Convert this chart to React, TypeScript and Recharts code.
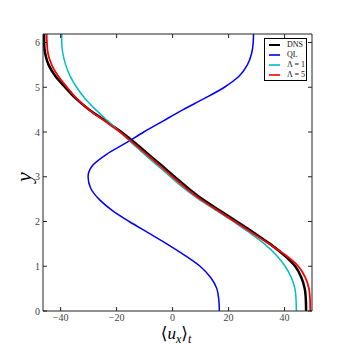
import React from 'react';
import { LineChart, Line, XAxis, YAxis, Legend } from 'recharts';

// profile heights and time-averaged streamwise velocity per run
const yLevels = [0, 0.25, 0.5, 0.75, 1, 1.25, 1.5, 1.75, 2, 2.25, 2.5, 2.75, 3, 3.25, 3.5, 3.75, 4, 4.25, 4.5, 4.75, 5, 5.25, 5.5, 5.75, 6, 6.19];
const dns = [47.7, 47.6, 47.2, 46.0, 43.8, 39.8, 34.8, 29.0, 22.9, 16.7, 10.6, 5.4, 0.7, -3.9, -8.6, -13.3, -18.3, -24.0, -29.8, -34.6, -38.4, -41.9, -44.3, -45.5, -45.9, -45.9];
const ql = [16.7, 16.5, 15.8, 13.6, 9.8, 4.2, -2.1, -8.8, -15.5, -21.6, -26.3, -29.3, -30.2, -28.6, -23.6, -16.8, -10.3, -3.3, 3.8, 11.4, 18.5, 23.8, 26.7, 28.2, 28.8, 28.9];
const lam1 = [44.2, 44.1, 43.7, 42.4, 40.2, 37.0, 32.8, 27.5, 21.7, 15.5, 9.3, 3.9, -0.8, -5.4, -10.0, -14.5, -18.8, -23.2, -27.5, -31.3, -34.3, -36.6, -38.2, -39.2, -39.6, -39.6];
const lam5 = [49.2, 49.1, 48.7, 47.4, 44.9, 40.3, 34.5, 28.3, 22.2, 16.0, 9.9, 4.7, 0.0, -4.6, -9.3, -14.0, -18.8, -24.3, -29.9, -34.3, -37.7, -40.9, -43.2, -44.5, -44.9, -45.0];

const seriesNames = ['DNS', 'QL', 'Λ = 1', 'Λ = 5'];
const seriesKeys = ['dns', 'ql', 'lam1', 'lam5'];
const seriesColors = ['#000000', '#0000ff', '#00bfbf', '#ff0000'];
const seriesWidths = [2.5, 1.5, 1.5, 1.8];

const xTicks = [-40, -20, 0, 20, 40];
const yTicks = [0, 1, 2, 3, 4, 5, 6];
const xDomain = [-46.3, 49.8];
const yDomain = [0, 6.19];

const data = yLevels.map((y, i) => ({ y, dns: dns[i], ql: ql[i], lam1: lam1[i], lam5: lam5[i] }));

const FONT = "'Liberation Serif', 'DejaVu Serif', serif";
const FRAME = '#222';
const fmt = (v: number) => String(v).replace('-', '\u2212');

const BottomTick = ({ x, y, payload }: any) => (
  <g>
    <line x1={x} y1={y} x2={x} y2={y - 4} stroke={FRAME} />
    <text x={x} y={y + 10} textAnchor="middle" fontSize={10} fill="#444" fontFamily={FONT}>{fmt(payload.value)}</text>
  </g>
);
const TopTick = ({ x, y }: any) => <line x1={x} y1={y} x2={x} y2={y + 4} stroke={FRAME} />;
const LeftTick = ({ x, y, payload }: any) => (
  <g>
    <line x1={x} y1={y} x2={x + 4} y2={y} stroke={FRAME} />
    <text x={x - 3} y={y + 3.5} textAnchor="end" fontSize={10} fill="#444" fontFamily={FONT}>{fmt(payload.value)}</text>
  </g>
);
const RightTick = ({ x, y }: any) => <line x1={x} y1={y} x2={x - 4} y2={y} stroke={FRAME} />;

const XLabel = () => (
  <text x={176} y={339} textAnchor="middle" fontSize={17} fontFamily={FONT} fill="#000">
    {'\u27e8'}
    <tspan fontStyle="italic">u</tspan>
    <tspan fontStyle="italic" fontSize={12} dy={4}>x</tspan>
    <tspan dy={-4}>{'\u27e9'}</tspan>
    <tspan fontStyle="italic" fontSize={12} dy={4}>t</tspan>
  </text>
);
const YLabel = () => (
  <text x={31} y={177} transform="rotate(-90 31 177)" textAnchor="middle" fontSize={22} fontStyle="italic" fontFamily={FONT} fill="#000">y</text>
);

const renderLegend = () => (
  <div style={{ width: 41, height: 41, border: '1px solid #000', background: '#fff', fontFamily: FONT, fontSize: 8, color: '#111' }}>
    {seriesNames.map((name, i) => (
      <div key={name} style={{ display: 'flex', alignItems: 'center', height: 10, marginTop: i === 0 ? 1 : 0 }}>
        <div style={{ width: 11, height: 2.5, background: seriesColors[i], marginLeft: 4, marginRight: 7, opacity: i === 0 ? 1 : 0.8 }} />
        <span style={{ whiteSpace: 'nowrap', lineHeight: '10px' }}>{name}</span>
      </div>
    ))}
  </div>
);

export default function App() {
  return (
    <div style={{ position: 'absolute', left: 0, top: 0, width: 346, height: 346, background: '#fff' }}>
      <LineChart width={346} height={346} data={data} layout="vertical" margin={{ top: 0, right: 0, bottom: 0, left: 0 }}>
        <XAxis xAxisId="b" type="number" domain={xDomain} ticks={xTicks} interval={0} allowDataOverflow
          height={35} tickSize={0} tickMargin={0} tick={BottomTick} axisLine={{ stroke: FRAME }} tickLine={false}
          label={<XLabel />} />
        <XAxis xAxisId="t" orientation="top" type="number" domain={xDomain} ticks={xTicks} interval={0} allowDataOverflow
          height={34} tickSize={0} tickMargin={0} tick={TopTick} axisLine={{ stroke: FRAME }} tickLine={false} />
        <YAxis yAxisId="l" type="number" dataKey="y" domain={yDomain} ticks={yTicks} interval={0} allowDataOverflow reversed
          width={43} tickSize={0} tickMargin={0} tick={LeftTick} axisLine={{ stroke: FRAME }} tickLine={false}
          label={<YLabel />} />
        <YAxis yAxisId="r" orientation="right" type="number" dataKey="y" domain={yDomain} ticks={yTicks} interval={0} allowDataOverflow reversed
          width={34} tickSize={0} tickMargin={0} tick={RightTick} axisLine={{ stroke: FRAME }} tickLine={false} />
        {seriesKeys.map((k, i) => (
          <Line key={k} xAxisId="b" yAxisId="l" dataKey={k} name={seriesNames[i]} type="monotone"
            stroke={seriesColors[i]} strokeWidth={seriesWidths[i]} dot={false} isAnimationActive={false} />
        ))}
        <Legend layout="vertical" align="center" verticalAlign="middle" content={renderLegend}
          wrapperStyle={{ left: 264, top: 38, width: 43, height: 43 }} />
      </LineChart>
    </div>
  );
}
